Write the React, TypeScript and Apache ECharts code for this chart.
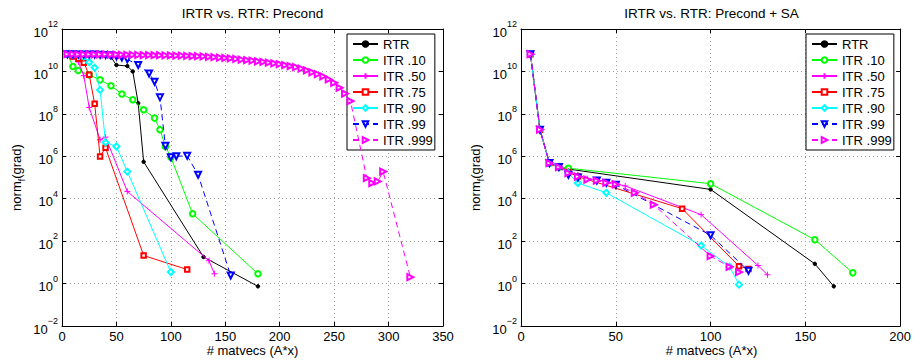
import React, { useEffect, useRef } from 'react';
import * as echarts from 'echarts';

const NAMES = ['RTR', 'ITR .10', 'ITR .50', 'ITR .75', 'ITR .90', 'ITR .99', 'ITR .999'];
const TITLES = ['IRTR vs. RTR: Precond', 'IRTR vs. RTR: Precond + SA'];
const X_LABEL = '# matvecs (A*x)';
const Y_LABEL = '{n|norm}{s|f}{n|(grad)}';

// ---- Left panel (Precond) ----
const L_RTR_X = [5, 10, 15, 20, 25, 30, 35, 40, 45, 50, 60, 65, 70, 75, 130, 180];
const L_RTR_Y = [6.5e10, 6.3e10, 6.2e10, 6.1e10, 6e10, 5.9e10, 5.8e10, 5.6e10, 4.7e10, 2.0e10, 1.8e10, 1.0e10, 3.2e8, 5.5e5, 18, 0.74];
const L_10_X = [5, 10, 15, 25, 35, 45, 55, 65, 75, 85, 90, 95, 100, 120, 180];
const L_10_Y = [6.5e10, 1.7e10, 1.1e10, 6.9e9, 4e9, 2.1e9, 8.7e8, 4.6e8, 1.55e8, 6.3e7, 1.8e7, 2.9e6, 9.1e5, 1950, 2.9];
const L_50_X = [5, 10, 15, 20, 25, 35, 40, 60, 135, 140];
const L_50_Y = [6.5e10, 5e10, 2.8e10, 6.3e9, 2e8, 6e6, 8e6, 2.2e4, 12, 2.9];
const L_75_X = [5, 10, 15, 20, 25, 30, 35, 40, 75, 115];
const L_75_Y = [6.5e10, 5e10, 4e10, 2.6e10, 6.9e9, 3e8, 9.8e5, 2.5e6, 21, 4.6];
const L_90_X = [5, 10, 15, 20, 25, 30, 35, 40, 50, 60, 100];
const L_90_Y = [6.5e10, 6.3e10, 6e10, 5e10, 2.7e10, 1.5e10, 1.35e9, 4.5e6, 2.9e6, 1.9e5, 3.5];
const L_99_X = [5, 10, 15, 20, 25, 30, 35, 40, 45, 50, 55, 60, 70, 80, 85, 90, 95, 100, 105, 115, 125, 155];
const L_99_Y = [6.5e10, 6.4e10, 6.3e10, 6.3e10, 6.2e10, 6.2e10, 6.1e10, 6e10, 5.8e10, 5.2e10, 4.5e10, 3.7e10, 2e10, 8e9, 3.3e9, 6e8, 3.1e6, 9e5, 1e6, 1.05e6, 1.35e5, 2.4];
const L_999_X = [5, 10, 15, 20, 25, 30, 35, 40, 45, 50, 55, 60, 65, 70, 75, 80, 85, 90, 95, 100,
  105, 110, 115, 120, 125, 130, 135, 140, 145, 150, 155, 160, 165, 170, 175, 180, 185, 190, 195, 200,
  205, 210, 215, 220, 225, 230, 235, 240, 245, 250, 255, 260, 265, 280, 285, 290, 295, 320];
const L_999_Y = [6.5e10, 6.5e10, 6.4e10, 6.4e10, 6.4e10, 6.3e10, 6.3e10, 6.3e10, 6.2e10, 6.2e10,
  6.1e10, 6.1e10, 6.0e10, 6.0e10, 5.9e10, 5.9e10, 5.8e10, 5.8e10, 5.7e10, 5.7e10,
  5.6e10, 5.5e10, 5.4e10, 5.3e10, 5.2e10, 5.1e10, 4.9e10, 4.7e10, 4.5e10, 4.3e10,
  4.1e10, 3.9e10, 3.6e10, 3.4e10, 3.2e10, 3.0e10, 2.8e10, 2.6e10, 2.4e10, 2.2e10,
  2.0e10, 1.8e10, 1.6e10, 1.35e10, 1.12e10, 9.1e9, 7.4e9, 5.8e9, 4.2e9, 2.9e9,
  1.7e9, 9e8, 4e8, 9.3e4, 5.5e4, 6.5e4, 1.9e5, 2.0];

// ---- Right panel (Precond + SA) ----
const R_RTR_X = [5, 10, 15, 20, 25, 100, 155, 165];
const R_RTR_Y = [6.5e10, 1.8e7, 4.8e5, 3.1e5, 2.5e5, 2.75e4, 8.5, 0.74];
const R_10_X = [5, 10, 15, 20, 25, 100, 155, 175];
const R_10_Y = [6.5e10, 1.8e7, 4.8e5, 3.1e5, 2.75e5, 5.1e4, 117, 3.2];
const R_50_X = [5, 10, 15, 20, 25, 30, 35, 40, 45, 55, 95, 125, 130];
const R_50_Y = [6.5e10, 1.8e7, 4.8e5, 3.1e5, 2e5, 1.35e5, 8.9e4, 7.9e4, 6.3e4, 4e4, 1780, 7.1, 2.6];
const R_75_X = [5, 10, 15, 20, 25, 30, 85, 115, 120];
const R_75_Y = [6.5e10, 1.8e7, 4.8e5, 3.1e5, 1.8e5, 1.1e5, 3400, 6.6, 4.9];
const R_90_X = [5, 10, 15, 20, 25, 30, 45, 95, 110, 115];
const R_90_Y = [6.5e10, 1.8e7, 4.8e5, 3.1e5, 1.6e5, 5.5e4, 1.9e4, 62, 6.3, 0.89];
const R_99_X = [5, 10, 15, 20, 25, 30, 40, 45, 50, 100, 120];
const R_99_Y = [6.5e10, 1.8e7, 4.8e5, 3.1e5, 1.35e5, 1e5, 7.2e4, 5.6e4, 4.6e4, 190, 4];
const R_999_X = [5, 10, 15, 20, 25, 30, 35, 40, 45, 50, 60, 70, 100, 110, 115];
const R_999_Y = [6.5e10, 1.8e7, 4.8e5, 3.1e5, 1.6e5, 1.1e5, 8e4, 7.1e4, 5.6e4, 4.8e4, 1.9e4, 5200, 19.5, 6.2, 3.5];

const LEFT_DATA = [[L_RTR_X, L_RTR_Y], [L_10_X, L_10_Y], [L_50_X, L_50_Y], [L_75_X, L_75_Y], [L_90_X, L_90_Y], [L_99_X, L_99_Y], [L_999_X, L_999_Y]];
const RIGHT_DATA = [[R_RTR_X, R_RTR_Y], [R_10_X, R_10_Y], [R_50_X, R_50_Y], [R_75_X, R_75_Y], [R_90_X, R_90_Y], [R_99_X, R_99_Y], [R_999_X, R_999_Y]];

const PLUS = 'path://M0,5L10,5M5,0L5,10';
const STYLES = [
  { color: '#000000', symbol: 'circle', size: 3.5, rotate: 0, dashed: false },
  { color: '#00ff00', symbol: 'emptyCircle', size: 5.5, rotate: 0, dashed: false },
  { color: '#ff00ff', symbol: PLUS, size: 6, rotate: 0, dashed: false },
  { color: '#ff0000', symbol: 'emptyRect', size: 4.5, rotate: 0, dashed: false },
  { color: '#00ffff', symbol: 'emptyDiamond', size: 6, rotate: 0, dashed: false },
  { color: '#0000ff', symbol: 'emptyTriangle', size: 6, rotate: 180, dashed: true },
  { color: '#ff00ff', symbol: 'emptyTriangle', size: 6, rotate: -90, dashed: true },
];

const FONT = 'Liberation Sans, Arial, Helvetica, sans-serif';
const GRIDS = [
  { left: 62, top: 29, width: 381, height: 297, xmax: 350 },
  { left: 521, top: 29, width: 381, height: 297, xmax: 200 },
];

function yLabel(v: number) {
  const e = Math.round(Math.log10(v));
  const s = e < 0 ? '\u2212' + String(-e) : String(e);
  return '{b|10}{e|' + s + '}';
}

export default function App() {
  const ref = useRef<HTMLDivElement>(null);
  useEffect(() => {
    if (!ref.current) return;
    const chart = echarts.init(ref.current, null, { renderer: 'svg' });
    const grid = GRIDS.map((g) => ({ left: g.left, top: g.top, width: g.width, height: g.height, show: false, containLabel: false }));
    const xAxis: any[] = [];
    const yAxis: any[] = [];
    GRIDS.forEach((g, gi) => {
      const baseX = {
        type: 'value', gridIndex: gi, min: 0, max: g.xmax, interval: 50,
        axisLine: { show: true, onZero: false, lineStyle: { color: '#000', width: 1 } },
        axisTick: { show: true, inside: true, length: 4, lineStyle: { color: '#000' } },
      };
      xAxis.push({
        ...baseX, position: 'bottom',
        axisLabel: { show: true, color: '#000', fontSize: 13, fontFamily: FONT, margin: 4 },
        splitLine: { show: true, lineStyle: { color: '#a0a0a0', type: [1, 3], width: 1 } },
      });
      xAxis.push({ ...baseX, position: 'top', axisLabel: { show: false }, splitLine: { show: false } });
      const baseY = {
        type: 'log', logBase: 10, gridIndex: gi, min: 1e-2, max: 1e12, interval: 2,
        axisLine: { show: true, onZero: false, lineStyle: { color: '#000', width: 1 } },
        axisTick: { show: true, inside: true, length: 4, lineStyle: { color: '#000' } },
        minorTick: { show: false },
      };
      yAxis.push({
        ...baseY, position: 'left',
        axisLabel: {
          show: true, color: '#000', fontFamily: FONT, margin: 4, formatter: yLabel,
          rich: {
            b: { fontSize: 13, fontFamily: FONT, color: '#000', verticalAlign: 'bottom' },
            e: { fontSize: 9, fontFamily: FONT, color: '#000', verticalAlign: 'bottom', padding: [0, 0, 10, 0] },
          },
        },
        splitLine: { show: true, lineStyle: { color: '#a0a0a0', type: [1, 3], width: 1 } },
      });
      yAxis.push({ ...baseY, position: 'right', axisLabel: { show: false }, splitLine: { show: false } });
    });

    const series: any[] = [];
    [LEFT_DATA, RIGHT_DATA].forEach((panel, gi) => {
      panel.forEach(([xs, ys], si) => {
        const st = STYLES[si];
        series.push({
          type: 'line', name: NAMES[si], xAxisIndex: gi * 2, yAxisIndex: gi * 2,
          data: xs.map((x, i) => [x, ys[i]]),
          symbol: st.symbol, symbolSize: st.size, symbolRotate: st.rotate, showSymbol: true,
          lineStyle: { color: st.color, width: 1, type: st.dashed ? [6, 4] : 'solid' },
          itemStyle: { color: st.color, borderColor: st.color, borderWidth: 1 },
          silent: true, z: 2 + si,
        });
      });
    });

    const legendBase = {
      data: NAMES, orient: 'vertical', top: 34, itemWidth: 25, itemHeight: 7, itemGap: 0,
      padding: [2, 2, 2, 5], borderColor: '#000', borderWidth: 1, backgroundColor: '#fff',
      selectedMode: false,
      textStyle: { fontSize: 13, fontFamily: FONT, color: '#000', lineHeight: 16 },
    };

    const texts: any[] = [];
    GRIDS.forEach((g, gi) => {
      texts.push({
        type: 'text', x: g.left + g.width / 2, y: 13,
        style: {
          text: TITLES[gi], fontSize: 13.5, fontFamily: FONT, fill: '#000',
          textAlign: 'center', align: 'center', textVerticalAlign: 'middle', verticalAlign: 'middle',
        },
      });
      texts.push({
        type: 'text', x: g.left + g.width / 2, y: 350,
        style: {
          text: X_LABEL, fontSize: 13, fontFamily: FONT, fill: '#000',
          textAlign: 'center', align: 'center', textVerticalAlign: 'middle', verticalAlign: 'middle',
        },
      });
      texts.push({
        type: 'text', x: g.left - 44, y: g.top + g.height / 2, rotation: Math.PI / 2,
        style: {
          text: Y_LABEL, fontSize: 13, fontFamily: FONT, fill: '#000',
          textAlign: 'center', align: 'center', textVerticalAlign: 'middle', verticalAlign: 'middle',
          rich: {
            n: { fontSize: 13, fontFamily: FONT, fill: '#000', color: '#000', verticalAlign: 'top' },
            s: { fontSize: 9, fontFamily: FONT, fill: '#000', color: '#000', verticalAlign: 'top', padding: [8, 0, 0, 0] },
          },
        },
      });
    });

    chart.setOption({
      animation: false,
      backgroundColor: '#fff',
      textStyle: { fontFamily: FONT },
      grid, xAxis, yAxis, series,
      legend: [{ ...legendBase, left: 347 }, { ...legendBase, left: 806 }],
      graphic: texts,
    });
    return () => chart.dispose();
  }, []);
  return <div ref={ref} style={{ position: 'absolute', left: 0, top: 0, width: 914, height: 360 }} />;
}
